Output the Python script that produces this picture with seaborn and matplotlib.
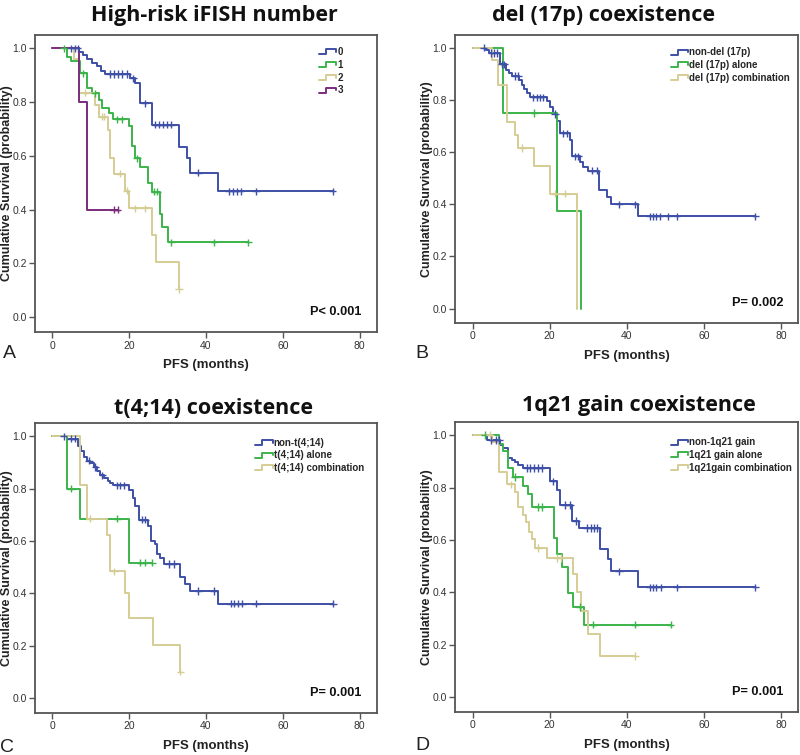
import numpy as np
import pandas as pd
import matplotlib
matplotlib.use("Agg")
import matplotlib.pyplot as plt
from matplotlib.legend_handler import HandlerBase
from matplotlib.lines import Line2D
import seaborn as sns

# ---- colours (SPSS-like) ----
BLUE = "#3d4fa6"
GREEN = "#3cb44b"
TAN = "#d5cd94"
PURPLE = "#7b2c7c"

# ---- Panel A: High-risk iFISH number ----
A_LABELS = ["0", "1", "2", "3"]
A0_T = [7, 8, 9, 10.3, 11.6, 12.7, 13.8, 20.3, 21.5, 22.8, 25.9, 33, 35, 35.8, 43]
A0_S = [0.987, 0.975, 0.959, 0.944, 0.932, 0.917, 0.904, 0.888, 0.87, 0.795, 0.716, 0.633, 0.59, 0.537, 0.468]
A0_C = [4.7, 5.8, 6.6, 15, 16, 17, 18, 19.4, 21, 24, 26.8, 27.8, 28.8, 29.8, 31, 38, 46, 47, 48, 49, 53, 73]
A1_T = [3.8, 4.7, 7.3, 9, 10.2, 12, 12.9, 14.6, 15.9, 20, 20.8, 21.5, 22.7, 25, 25.9, 27.9, 28.6, 30]
A1_S = [0.969, 0.954, 0.907, 0.851, 0.832, 0.807, 0.778, 0.758, 0.735, 0.71, 0.636, 0.59, 0.559, 0.497, 0.466, 0.383, 0.335, 0.278]
A1_C = [2.9, 8, 11, 16.9, 18, 22, 26.5, 27.3, 31, 42, 51]
A2_T = [5.5, 6.8, 11, 12, 14.5, 15, 16, 19, 20, 26, 27, 33]
A2_S = [0.96, 0.835, 0.79, 0.745, 0.695, 0.59, 0.533, 0.47, 0.405, 0.305, 0.205, 0.103]
A2_C = [8.5, 12.8, 13.5, 17.5, 19.3, 21.5, 24, 33]
A3_T = [7, 9]
A3_S = [0.8, 0.4]
A3_C = [16, 17]

# ---- Panel B: del (17p) coexistence ----
B_LABELS = ["non-del (17p)", "del (17p) alone", "del (17p) combination"]
B0_T = [3.5, 4.3, 7, 8.8, 9.5, 10.1, 12, 12.7, 13.3, 14, 14.9, 19.2, 20, 20.9, 21.8, 22.7, 25.3, 25.7,
        27.8, 28.7, 30, 32.9, 34.8, 35.8, 43]
B0_S = [0.99, 0.98, 0.936, 0.915, 0.905, 0.892, 0.875, 0.856, 0.84, 0.828, 0.81, 0.796, 0.774, 0.746,
        0.72, 0.672, 0.646, 0.584, 0.561, 0.542, 0.529, 0.455, 0.427, 0.40, 0.354]
B0_C = [2.9, 4.9, 5.6, 6.4, 7.6, 8.2, 11, 11.9, 15.8, 16.6, 17.5, 18.3, 21.4, 23.5, 24.4, 26.6, 27.4,
        30.9, 32.2, 38, 42.1, 46, 46.9, 47.7, 48.6, 50.8, 52.9, 73.3]
B1_T = [8, 22, 28]
B1_S = [0.75, 0.375, 0.0]
B1_C = [16]
B2_T = [5, 6.7, 8.9, 11, 11.7, 16, 20.2, 27]
B2_S = [0.952, 0.858, 0.715, 0.665, 0.616, 0.548, 0.44, 0.0]
B2_C = [12.8, 21.3, 24]

# ---- Panel C: t(4;14) coexistence ----
C_LABELS = ["non-t(4;14)", "t(4;14) alone", "t(4;14) combination"]
C0_T = [3.9, 6.7, 7.5, 8.2, 9.1, 9.9, 10.8, 11.7, 12.5, 13.4, 14.4, 15.1, 15.8, 20, 21, 21.6, 22.5,
        24.9, 25.8, 26.6, 27.2, 28.1, 29.1, 33.1, 34.6, 35.9, 43]
C0_S = [0.991, 0.962, 0.945, 0.92, 0.907, 0.897, 0.882, 0.869, 0.851, 0.841, 0.831, 0.822, 0.813,
        0.795, 0.765, 0.733, 0.682, 0.657, 0.602, 0.587, 0.551, 0.534, 0.513, 0.464, 0.437, 0.409, 0.361]
C0_C = [2.9, 4.8, 5.8, 9.5, 11.2, 13, 16.9, 17.7, 18.6, 23.4, 24.2, 30.3, 31.6, 38, 42.1, 46.5, 47.4,
        48.3, 49.4, 53, 73.1]
C1_T = [3.9, 7.1, 20]
C1_S = [0.80, 0.686, 0.517]
C1_C = [4.8, 16.9, 22.9, 24, 26]
C2_T = [7.1, 9.1, 14.1, 15.1, 19, 19.9, 26.2, 33.3]
C2_S = [0.813, 0.686, 0.623, 0.485, 0.403, 0.305, 0.203, 0.102]
C2_C = [9.8, 16, 33.3]

# ---- Panel D: 1q21 gain coexistence ----
D_LABELS = ["non-1q21 gain", "1q21 gain alone", "1q21gain combination"]
D0_T = [3.8, 7.1, 8, 9.3, 10.1, 11, 11.8, 13, 20, 21.8, 22.8, 25.7, 27.7, 33, 35, 35.8, 43]
D0_S = [0.981, 0.964, 0.95, 0.913, 0.905, 0.898, 0.888, 0.875, 0.824, 0.79, 0.733, 0.672, 0.646,
        0.567, 0.527, 0.481, 0.42]
D0_C = [4.9, 6, 6.9, 14, 15, 16, 17, 17.9, 20.9, 24, 25.3, 26.8, 29.6, 30.8, 31.6, 32.3, 38, 46,
        46.9, 47.7, 48.8, 52.9, 73.3]
D1_T = [6.9, 7.8, 9.3, 10.4, 13, 14.4, 15.3, 21.1, 22, 23.1, 24.8, 26, 28.9]
D1_S = [0.968, 0.939, 0.873, 0.841, 0.807, 0.774, 0.726, 0.608, 0.545, 0.497, 0.396, 0.345, 0.277]
D1_C = [3.2, 11, 17, 17.9, 27.8, 31.3, 42.1, 51.4]
D2_T = [5, 6.9, 9, 11, 11.8, 13, 13.8, 14.7, 15.3, 16.2, 19.2, 26, 27, 28, 30, 33]
D2_S = [0.975, 0.86, 0.812, 0.784, 0.727, 0.697, 0.667, 0.631, 0.603, 0.57, 0.532, 0.472, 0.40,
        0.33, 0.24, 0.157]
D2_C = [4.5, 10, 17, 21.8, 23, 42.1]

P_VALUES = ["P< 0.001", "P= 0.002", "P= 0.001", "P= 0.001"]
TITLES = ["High-risk iFISH number", "del (17p) coexistence", "t(4;14) coexistence", "1q21 gain coexistence"]


def km_frames(curves, labels):
    steps, marks = [], []
    for (t, s, c), lab in zip(curves, labels):
        t = np.asarray(t, float)
        s = np.asarray(s, float)
        end = max(t.max(), max(c))
        xs = np.concatenate([[0.0], t, [end]])
        ys = np.concatenate([[1.0], s, [s[-1]]])
        steps.append(pd.DataFrame({"time": xs, "surv": ys, "group": lab}))
        cy = np.concatenate([[1.0], s])[np.searchsorted(t, c, side="right")]
        marks.append(pd.DataFrame({"time": c, "surv": cy, "group": lab}))
    return pd.concat(steps), pd.concat(marks)


class StepHandler(HandlerBase):
    # SPSS-style little step glyph in the legend
    def create_artists(self, legend, orig_handle, xdescent, ydescent, width, height, fontsize, trans):
        x0 = -xdescent
        y0 = -ydescent
        xs = [x0, x0 + 0.4 * width, x0 + 0.4 * width, x0 + width, x0 + width]
        ys = [y0 + 0.1 * height, y0 + 0.1 * height, y0 + 0.85 * height, y0 + 0.85 * height, y0 + 0.45 * height]
        ln = Line2D(xs, ys, color=orig_handle.get_color(), lw=1.4, transform=trans)
        return [ln]


sns.set_theme(style="ticks")
plt.rcParams["font.family"] = ["Liberation Sans", "DejaVu Sans"]

fig = plt.figure(figsize=(8, 7.55), dpi=100)

panels = [
    ([(A0_T, A0_S, A0_C), (A1_T, A1_S, A1_C), (A2_T, A2_S, A2_C), (A3_T, A3_S, A3_C)], A_LABELS,
     [BLUE, GREEN, TAN, PURPLE], [0.044, 0.560, 0.427, 0.394], (0.822, 0.968)),
    ([(B0_T, B0_S, B0_C), (B1_T, B1_S, B1_C), (B2_T, B2_S, B2_C)], B_LABELS,
     [BLUE, GREEN, TAN], [0.569, 0.572, 0.429, 0.382], (0.62, 0.966)),
    ([(C0_T, C0_S, C0_C), (C1_T, C1_S, C1_C), (C2_T, C2_S, C2_C)], C_LABELS,
     [BLUE, GREEN, TAN], [0.044, 0.0556, 0.427, 0.384], (0.635, 0.96)),
    ([(D0_T, D0_S, D0_C), (D1_T, D1_S, D1_C), (D2_T, D2_S, D2_C)], D_LABELS,
     [BLUE, GREEN, TAN], [0.569, 0.057, 0.429, 0.384], (0.62, 0.957)),
]

for i, (curves, labels, colors, rect, leg_xy) in enumerate(panels):
    ax = fig.add_axes(rect)
    steps, marks = km_frames(curves, labels)
    pal = dict(zip(labels, colors))
    sns.lineplot(data=steps, x="time", y="surv", hue="group", palette=pal, estimator=None,
                 sort=False, drawstyle="steps-post", lw=1.4, legend=False, ax=ax)
    sns.scatterplot(data=marks, x="time", y="surv", hue="group", palette=pal, marker="+",
                    s=28, linewidth=1.0, legend=False, ax=ax, zorder=3)
    ax.set_xlim(-4.5, 84.5)
    ax.set_ylim(-0.056, 1.05)
    ax.set_xticks([0, 20, 40, 60, 80])
    ax.set_yticks([0.0, 0.2, 0.4, 0.6, 0.8, 1.0])
    ax.set_yticklabels([f"{v:.1f}" for v in [0.0, 0.2, 0.4, 0.6, 0.8, 1.0]])
    ax.tick_params(direction="out", length=4, width=1, color="#555555", labelsize=7.5,
                   labelcolor="#333333", pad=2)
    for sp in ax.spines.values():
        sp.set_visible(True)
        sp.set_linewidth(1.3)
        sp.set_color("#555555")
    ax.set_xlabel("PFS (months)", fontsize=9.5, fontweight="bold", color="#222222", labelpad=6)
    ax.set_ylabel("Cumulative Survival (probability)", fontsize=9, fontweight="bold", color="#222222")
    ax.yaxis.set_label_coords(-0.064, 0.5)
    ax.text(80.6, 0.02, P_VALUES[i], ha="right", va="center", fontsize=9.2, fontweight="bold",
            color="#111111")
    handles = [Line2D([], [], color=c) for c in colors]
    ax.legend(handles, labels, handler_map={Line2D: StepHandler()}, loc="upper left",
              bbox_to_anchor=leg_xy, frameon=False, handlelength=1.8, handletextpad=0.1,
              labelspacing=0.28, borderaxespad=0, borderpad=0.3,
              prop={"weight": "bold", "size": 7, "family": "Liberation Sans"})

# titles and panel letters
title_xy = [(214, 15), (604, 15), (214, 408), (639, 405)]
for (tx, ty), txt in zip(title_xy, TITLES):
    fig.text(tx / 800, 1 - ty / 755, txt, ha="center", va="center", fontsize=15.5,
             fontweight="bold", family=["Open Sans", "DejaVu Sans"], color="#111111")
letter_xy = [(9, 353, "A"), (422, 353, "B"), (7, 747, "C"), (422, 745, "D")]
for lx, ly, lt in letter_xy:
    fig.text(lx / 800, 1 - ly / 755, lt, ha="center", va="center", fontsize=14, color="#222222")

fig.savefig("out.png", dpi=100, facecolor="white")
